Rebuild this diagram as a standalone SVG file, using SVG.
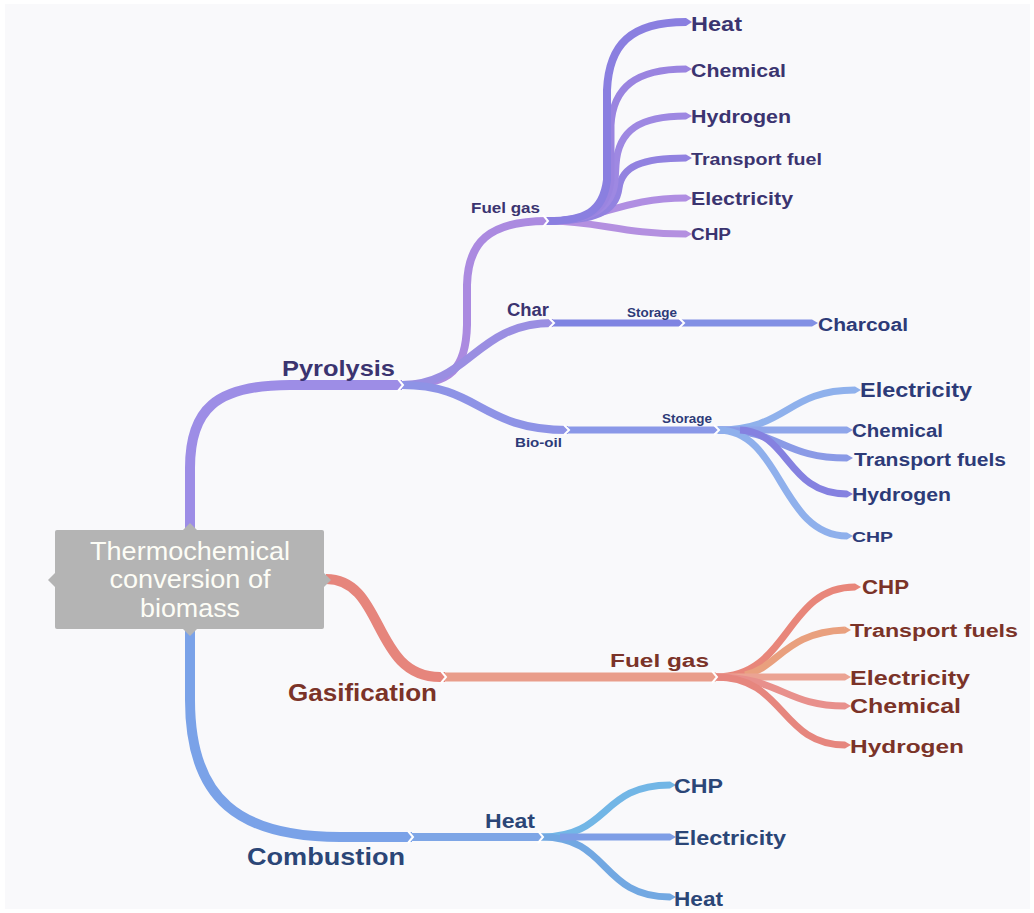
<svg xmlns="http://www.w3.org/2000/svg" width="1034" height="913" viewBox="0 0 1034 913">
<style>
.br{fill:none;stroke-linecap:butt}
.w10{stroke-width:10}.w9{stroke-width:9}.w8{stroke-width:8}.w7{stroke-width:7}
.chev{fill:none;stroke:#ffffff;stroke-width:2}
text{font-family:"Liberation Sans",Arial,sans-serif;font-weight:bold}
.lp{fill:#3b3470}.lb{fill:#2d3b78}.lg{fill:#7b3328}.lc{fill:#2b4677}
.ct{fill:#fdfdf6;font-weight:normal;font-size:25px;text-anchor:middle}
</style>
<rect x="0" y="0" width="1034" height="913" fill="#ffffff"/>
<rect x="5" y="4" width="1025" height="905" fill="#f9f9fb"/>
<g id="connectors">
  <!-- Pyrolysis trunk -->
  <path class="br w10" stroke="#9d8de6" d="M190,530 L190,468 C190,410 215,385 290,385 L402,385"/>
  <!-- Fuel gas branch -->
  <path class="br w8" stroke="#ab8ae0" d="M402,385 C452,385 466,368 467,325 L467,285 C468,243 488,221 547,221"/>
  <!-- Char branch -->
  <path class="br w8" stroke="#9a8ee2" d="M402,385 C470,385 475,323 553,323"/>
  <path class="br w7" stroke="#7f84e2" d="M553,323 L683,323"/>
  <path class="br w7" stroke="#8290e4" d="M683,323 L812,323"/>
  <polygon fill="#8290e4" points="812,319.5 818,323 812,326.5"/>
  <!-- Bio-oil branch -->
  <path class="br w8" stroke="#8e93e6" d="M402,385 C480,385 480,430 568,430"/>
  <path class="br w7" stroke="#8a98e8" d="M568,430 L718,430"/>
  <!-- Bio-oil fan -->
  <path class="br w7" stroke="#8fb1ec" d="M718,430 C788,430 786,390 855,390"/>
  <path class="br w7" stroke="#8fa6ea" d="M718,430 L847,430"/>
  <path class="br w7" stroke="#8a9ae6" d="M718,430 C782,430 782,458 847,458"/>
  <path class="br w7" stroke="#8fb0ec" d="M718,430 C782,430 780,536 847,536"/>
  <path class="br w7" stroke="#8581e0" d="M740,430 C790,432 786,494 847,494"/>
  <polygon fill="#8fb1ec" points="855,386.5 861,390 855,393.5"/>
  <polygon fill="#8fa6ea" points="847,426.5 853,430 847,433.5"/>
  <polygon fill="#8a9ae6" points="847,454.5 853,458 847,461.5"/>
  <polygon fill="#8581e0" points="847,490.5 853,494 847,497.5"/>
  <polygon fill="#8fb0ec" points="847,532.5 853,536 847,539.5"/>
  <!-- Fuel gas fan (pyrolysis) -->
  <path class="br w7" stroke="#b490e0" d="M547,221 C600,221 620,234 686,234"/>
  <path class="br w7" stroke="#b08ee2" d="M547,221 C600,221 620,198 686,198"/>
  <path class="br w7" stroke="#9282e0" d="M547,221 C595,221 616,212 619,188 C622,166 642,158 686,158"/>
  <path class="br w7" stroke="#9e88e2" d="M547,221 C592,221 612,208 615,182 L616,165 C618,130 640,116 686,116"/>
  <path class="br w7" stroke="#9a84e0" d="M547,221 C590,221 608,210 611,180 L611,125 C613,88 635,69 686,69"/>
  <path class="br w8" stroke="#8a7fe0" d="M547,221 C585,221 603,212 607,180 L607,90 C609,45 630,22 686,22"/>
  <polygon fill="#8a7fe0" points="686,18 692,22 686,26"/>
  <polygon fill="#9a84e0" points="686,65.5 692,69 686,72.5"/>
  <polygon fill="#9e88e2" points="686,112.5 692,116 686,119.5"/>
  <polygon fill="#9282e0" points="686,154.5 692,158 686,161.5"/>
  <polygon fill="#b08ee2" points="686,194.5 692,198 686,201.5"/>
  <polygon fill="#b490e0" points="686,230.5 692,234 686,237.5"/>
  <!-- Gasification -->
  <path class="br w10" stroke="#e6857c" d="M326,579 C385,579 372,677 440,677 L445,677"/>
  <path class="br w9" stroke="#e99d8a" d="M445,677 L716,677"/>
  <path class="br w7" stroke="#e8867a" d="M716,677 C790,677 785,587 855,587"/>
  <path class="br w7" stroke="#e9a07e" d="M745,675 C778,668 785,632 845,630"/>
  <path class="br w7" stroke="#eba393" d="M716,677 L845,677"/>
  <path class="br w7" stroke="#e8908c" d="M716,677 C780,677 785,706 845,706"/>
  <path class="br w7" stroke="#e6867e" d="M716,677 C785,677 780,745 845,745"/>
  <polygon fill="#e8867a" points="855,583.5 861,587 855,590.5"/>
  <polygon fill="#e9a07e" points="845,626.5 851,630 845,633.5"/>
  <polygon fill="#eba393" points="845,673.5 851,677 845,680.5"/>
  <polygon fill="#e8908c" points="845,702.5 851,706 845,709.5"/>
  <polygon fill="#e6867e" points="845,741.5 851,745 845,748.5"/>
  <!-- Combustion -->
  <path class="br w10" stroke="#7aa2e8" d="M190,628 L190,700 C190,800 240,837 340,837 L412,837"/>
  <path class="br w8" stroke="#7ea6e6" d="M412,837 L542,837"/>
  <path class="br w7" stroke="#72b6e6" d="M542,837 C610,837 600,785 670,785"/>
  <path class="br w7" stroke="#72a8e2" d="M542,837 C610,837 600,897 670,897"/>
  <path class="br w7" stroke="#7e9ee6" d="M560,837 L670,837"/>
  <polygon fill="#72b6e6" points="670,781.5 676,785 670,788.5"/>
  <polygon fill="#7e9ee6" points="670,833.5 676,837 670,840.5"/>
  <polygon fill="#72a8e2" points="670,893.5 676,897 670,900.5"/>
  <!-- junction chevrons -->
  <polyline class="chev" points="398,379 403,385 398,391"/>
  <polyline class="chev" points="543,215 548,221 543,227"/>
  <polyline class="chev" points="549,318 554,323 549,328"/>
  <polyline class="chev" points="679,318 684,323 679,328"/>
  <polyline class="chev" points="564,425 569,430 564,435"/>
  <polyline class="chev" points="714,425 719,430 714,435"/>
  <polyline class="chev" points="441,671 446,677 441,683"/>
  <polyline class="chev" points="712,671 717,677 712,683"/>
  <polyline class="chev" points="408,831 413,837 408,843"/>
  <polyline class="chev" points="538,831 543,837 538,843"/>
</g>
<g id="center">
  <rect x="55" y="530" width="269" height="99" rx="2" fill="#b4b4b4"/>
  <polygon fill="#b4b4b4" points="182,531 190,523 198,531"/>
  <polygon fill="#b4b4b4" points="182,628 190,636 198,628"/>
  <polygon fill="#b4b4b4" points="56,572 48,580 56,588"/>
  <polygon fill="#b4b4b4" points="323,572 331,580 323,588"/>
  <text class="ct" x="190" y="560" textLength="200" lengthAdjust="spacingAndGlyphs">Thermochemical</text>
  <text class="ct" x="190" y="588" textLength="161" lengthAdjust="spacingAndGlyphs">conversion of</text>
  <text class="ct" x="190" y="617" textLength="100" lengthAdjust="spacingAndGlyphs">biomass</text>
</g>
<g id="pyrolysis"><text class="lp" x="282" y="376" font-size="22" textLength="113" lengthAdjust="spacingAndGlyphs">Pyrolysis</text></g>
<g id="py-fuelgas"><text class="lp" x="471" y="213" font-size="15" textLength="69" lengthAdjust="spacingAndGlyphs">Fuel gas</text></g>
<g id="py-heat"><text class="lp" x="691" y="31" font-size="20" textLength="51" lengthAdjust="spacingAndGlyphs">Heat</text></g>
<g id="py-chemical"><text class="lp" x="691" y="77" font-size="18" textLength="95" lengthAdjust="spacingAndGlyphs">Chemical</text></g>
<g id="py-hydrogen"><text class="lp" x="691" y="123" font-size="18" textLength="100" lengthAdjust="spacingAndGlyphs">Hydrogen</text></g>
<g id="py-transport"><text class="lp" x="691" y="165" font-size="16.5" textLength="131" lengthAdjust="spacingAndGlyphs">Transport fuel</text></g>
<g id="py-electricity"><text class="lp" x="691" y="205" font-size="18" textLength="102" lengthAdjust="spacingAndGlyphs">Electricity</text></g>
<g id="py-chp"><text class="lp" x="691" y="240" font-size="16" textLength="40" lengthAdjust="spacingAndGlyphs">CHP</text></g>
<g id="py-char"><text class="lp" x="507" y="316" font-size="17.5" textLength="42" lengthAdjust="spacingAndGlyphs">Char</text></g>
<g id="py-storage1"><text class="lb" x="627" y="317" font-size="12.5" textLength="50" lengthAdjust="spacingAndGlyphs">Storage</text></g>
<g id="py-charcoal"><text class="lb" x="818" y="331" font-size="18" textLength="90" lengthAdjust="spacingAndGlyphs">Charcoal</text></g>
<g id="py-biooil"><text class="lb" x="515" y="447" font-size="13.5" textLength="47" lengthAdjust="spacingAndGlyphs">Bio-oil</text></g>
<g id="py-storage2"><text class="lb" x="662" y="423" font-size="12.5" textLength="50" lengthAdjust="spacingAndGlyphs">Storage</text></g>
<g id="bo-electricity"><text class="lb" x="860" y="397" font-size="20" textLength="112" lengthAdjust="spacingAndGlyphs">Electricity</text></g>
<g id="bo-chemical"><text class="lb" x="852" y="437" font-size="18" textLength="91" lengthAdjust="spacingAndGlyphs">Chemical</text></g>
<g id="bo-transport"><text class="lb" x="854" y="466" font-size="17.5" textLength="152" lengthAdjust="spacingAndGlyphs">Transport fuels</text></g>
<g id="bo-hydrogen"><text class="lb" x="852" y="501" font-size="18" textLength="99" lengthAdjust="spacingAndGlyphs">Hydrogen</text></g>
<g id="bo-chp"><text class="lb" x="852" y="542" font-size="15.5" textLength="41" lengthAdjust="spacingAndGlyphs">CHP</text></g>
<g id="gasification"><text class="lg" x="288" y="701" font-size="23" textLength="149" lengthAdjust="spacingAndGlyphs">Gasification</text></g>
<g id="ga-fuelgas"><text class="lg" x="610" y="667" font-size="18" textLength="99" lengthAdjust="spacingAndGlyphs">Fuel gas</text></g>
<g id="ga-chp"><text class="lg" x="862" y="594" font-size="20" textLength="47" lengthAdjust="spacingAndGlyphs">CHP</text></g>
<g id="ga-transport"><text class="lg" x="850" y="637" font-size="18" textLength="168" lengthAdjust="spacingAndGlyphs">Transport fuels</text></g>
<g id="ga-electricity"><text class="lg" x="850" y="685" font-size="21" textLength="120" lengthAdjust="spacingAndGlyphs">Electricity</text></g>
<g id="ga-chemical"><text class="lg" x="850" y="713" font-size="20" textLength="111" lengthAdjust="spacingAndGlyphs">Chemical</text></g>
<g id="ga-hydrogen"><text class="lg" x="850" y="753" font-size="19" textLength="114" lengthAdjust="spacingAndGlyphs">Hydrogen</text></g>
<g id="combustion"><text class="lc" x="247" y="865" font-size="24" textLength="158" lengthAdjust="spacingAndGlyphs">Combustion</text></g>
<g id="co-heat"><text class="lc" x="485" y="828" font-size="20" textLength="50" lengthAdjust="spacingAndGlyphs">Heat</text></g>
<g id="co-chp"><text class="lc" x="674" y="793" font-size="20" textLength="49" lengthAdjust="spacingAndGlyphs">CHP</text></g>
<g id="co-electricity"><text class="lc" x="674" y="845" font-size="20" textLength="112" lengthAdjust="spacingAndGlyphs">Electricity</text></g>
<g id="co-heat2"><text class="lc" x="674" y="906" font-size="20" textLength="49" lengthAdjust="spacingAndGlyphs">Heat</text></g>
</svg>
